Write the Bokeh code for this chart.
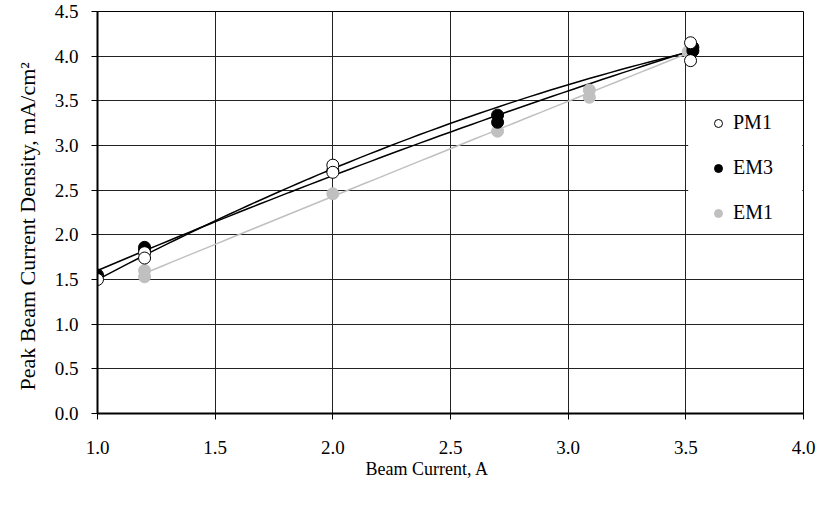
import numpy as np
from bokeh.plotting import figure
from bokeh.models import (Legend, LegendItem, FixedTicker, Range1d,
                          CustomJSTickFormatter, Title, BoxAnnotation)
from bokeh.embed import file_html
from bokeh.resources import INLINE

# Data
pm1_x = [1.0, 1.2, 1.2, 2.0, 2.0, 3.52, 3.52]
pm1_y = [1.50, 1.80, 1.74, 2.78, 2.70, 4.15, 3.95]

em3_x = [1.0, 1.2, 1.2, 2.0, 2.7, 2.7, 3.53, 3.53]
em3_y = [1.55, 1.86, 1.83, 2.72, 3.34, 3.26, 4.10, 4.06]

em1_x = [1.2, 1.2, 2.0, 2.7, 3.09, 3.09, 3.51]
em1_y = [1.60, 1.53, 2.46, 3.16, 3.62, 3.54, 4.05]

x_ticks = [1.0, 1.5, 2.0, 2.5, 3.0, 3.5, 4.0]
y_ticks = [0.0, 0.5, 1.0, 1.5, 2.0, 2.5, 3.0, 3.5, 4.0, 4.5]

FONT = "Liberation Serif"

p = figure(width=822, height=510, output_backend="svg", toolbar_location=None,
           x_range=Range1d(1.0, 4.0), y_range=Range1d(0.0, 4.5),
           min_border_left=95, min_border_right=19, min_border_top=11,
           min_border_bottom=97)

p.background_fill_color = "white"
p.border_fill_color = "white"
p.outline_line_color = "black"
p.outline_line_width = 1

for ax in (p.xaxis[0], p.yaxis[0]):
    ax.major_label_text_font = FONT
    ax.major_label_text_font_size = "19px"
    ax.major_label_text_color = "black"
    ax.axis_line_color = "black"
    ax.axis_line_width = 2
    ax.major_tick_line_color = "black"
    ax.major_tick_out = 6
    ax.major_tick_in = 0
    ax.minor_tick_line_color = None

p.xaxis.ticker = FixedTicker(ticks=x_ticks)
p.yaxis.ticker = FixedTicker(ticks=y_ticks)
p.xaxis.formatter = CustomJSTickFormatter(code="return tick.toFixed(1);")
p.yaxis.formatter = CustomJSTickFormatter(code="return tick.toFixed(1);")
p.xaxis.major_label_standoff = 21
p.yaxis.major_label_standoff = 13

# axis titles (positioned as in the reference)
ytitle = Title(text="Peak Beam Current Density, mA/cm\u00b2", align="left",
               offset=23, text_font=FONT, text_font_size="22px",
               text_font_style="normal", text_color="black", standoff=24)
p.add_layout(ytitle, "left")

xtitle = Title(text="Beam Current, A", align="left", offset=268,
               text_font=FONT, text_font_size="18px", text_font_style="normal",
               text_color="black", standoff=0)
p.add_layout(xtitle, "below")

p.xgrid.grid_line_color = "#222222"
p.ygrid.grid_line_color = "#222222"
p.xgrid.grid_line_width = 1
p.ygrid.grid_line_width = 1


def trend(xs, ys):
    c = np.polyfit(xs, ys, 2)
    xx = np.linspace(min(xs), max(xs), 60)
    return xx, np.polyval(c, xx)

# trend lines
tx, ty = trend(em1_x, em1_y)
p.line(tx, ty, line_color="#c0c0c0", line_width=1.5)
tx, ty = trend(em3_x, em3_y)
p.line(tx, ty, line_color="black", line_width=1.5)
tx, ty = trend(pm1_x, pm1_y)
p.line(tx, ty, line_color="black", line_width=1.5)

r_em1 = p.scatter(em1_x, em1_y, size=12, marker="circle", fill_color="#c0c0c0",
                  line_color="#c0c0c0")
r_em3 = p.scatter(em3_x, em3_y, size=12, marker="circle", fill_color="black",
                  line_color="black")
r_pm1 = p.scatter(pm1_x, pm1_y, size=12, marker="circle", fill_color="white",
                  line_color="black", line_width=1)

# white area behind the legend (hides grid lines there, as in the reference)
p.add_layout(BoxAnnotation(left=3.51, right=3.995, bottom=2.01, top=3.49,
                           fill_color="white", fill_alpha=1.0, line_color=None))

legend = Legend(items=[LegendItem(label="PM1", renderers=[r_pm1]),
                       LegendItem(label="EM3", renderers=[r_em3]),
                       LegendItem(label="EM1", renderers=[r_em1])],
                location=(606, 189), border_line_color=None,
                background_fill_color="white", background_fill_alpha=1.0,
                label_text_font=FONT, label_text_font_size="20px",
                label_text_color="black",
                spacing=22, padding=10, margin=0, glyph_width=30,
                glyph_height=20, label_standoff=0, label_width=58)
p.add_layout(legend, "center")

open("out.html", "w").write(file_html(p, INLINE))
